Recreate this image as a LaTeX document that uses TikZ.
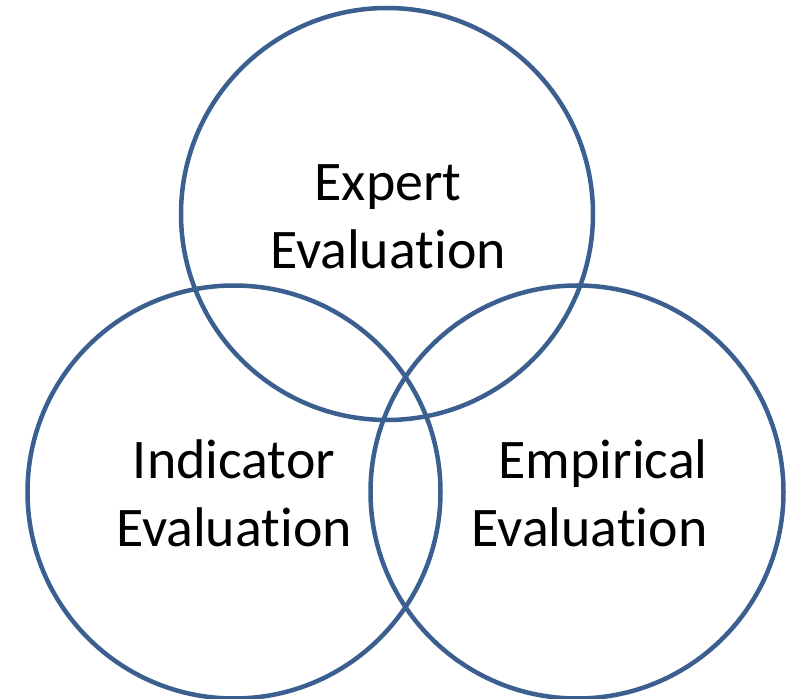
\documentclass[tikz,border=0pt]{standalone}
\usepackage{fontspec}
\setmainfont[Ligatures=NoCommon]{Carlito}
\definecolor{ringblue}{HTML}{3B5F8F}
\tikzset{
  ring/.style={draw=ringblue, line width=0.09cm},
  label/.style={inner sep=0pt, font=\fontsize{31.8pt}{38.5pt}\selectfont}
}
\begin{document}
\begin{tikzpicture}
\useasboundingbox (0,0) rectangle (15.9,-13.98);
\draw[ring] (7.74,-4.28) circle (4.12);
\draw[ring] (4.68,-9.84) circle (4.13);
\draw[ring] (11.54,-9.84) circle (4.13);

\node[label, align=center] (expert) at (7.76,-4.34) {Expert\\Evaluation};
\node[label, align=center] (indicator) at (4.68,-9.86) {Indicator\\Evaluation};
\node[label, align=right, anchor=east] (empirical) at (14.16,-9.86) {Empirical\\Evaluation};
\end{tikzpicture}
\end{document}
